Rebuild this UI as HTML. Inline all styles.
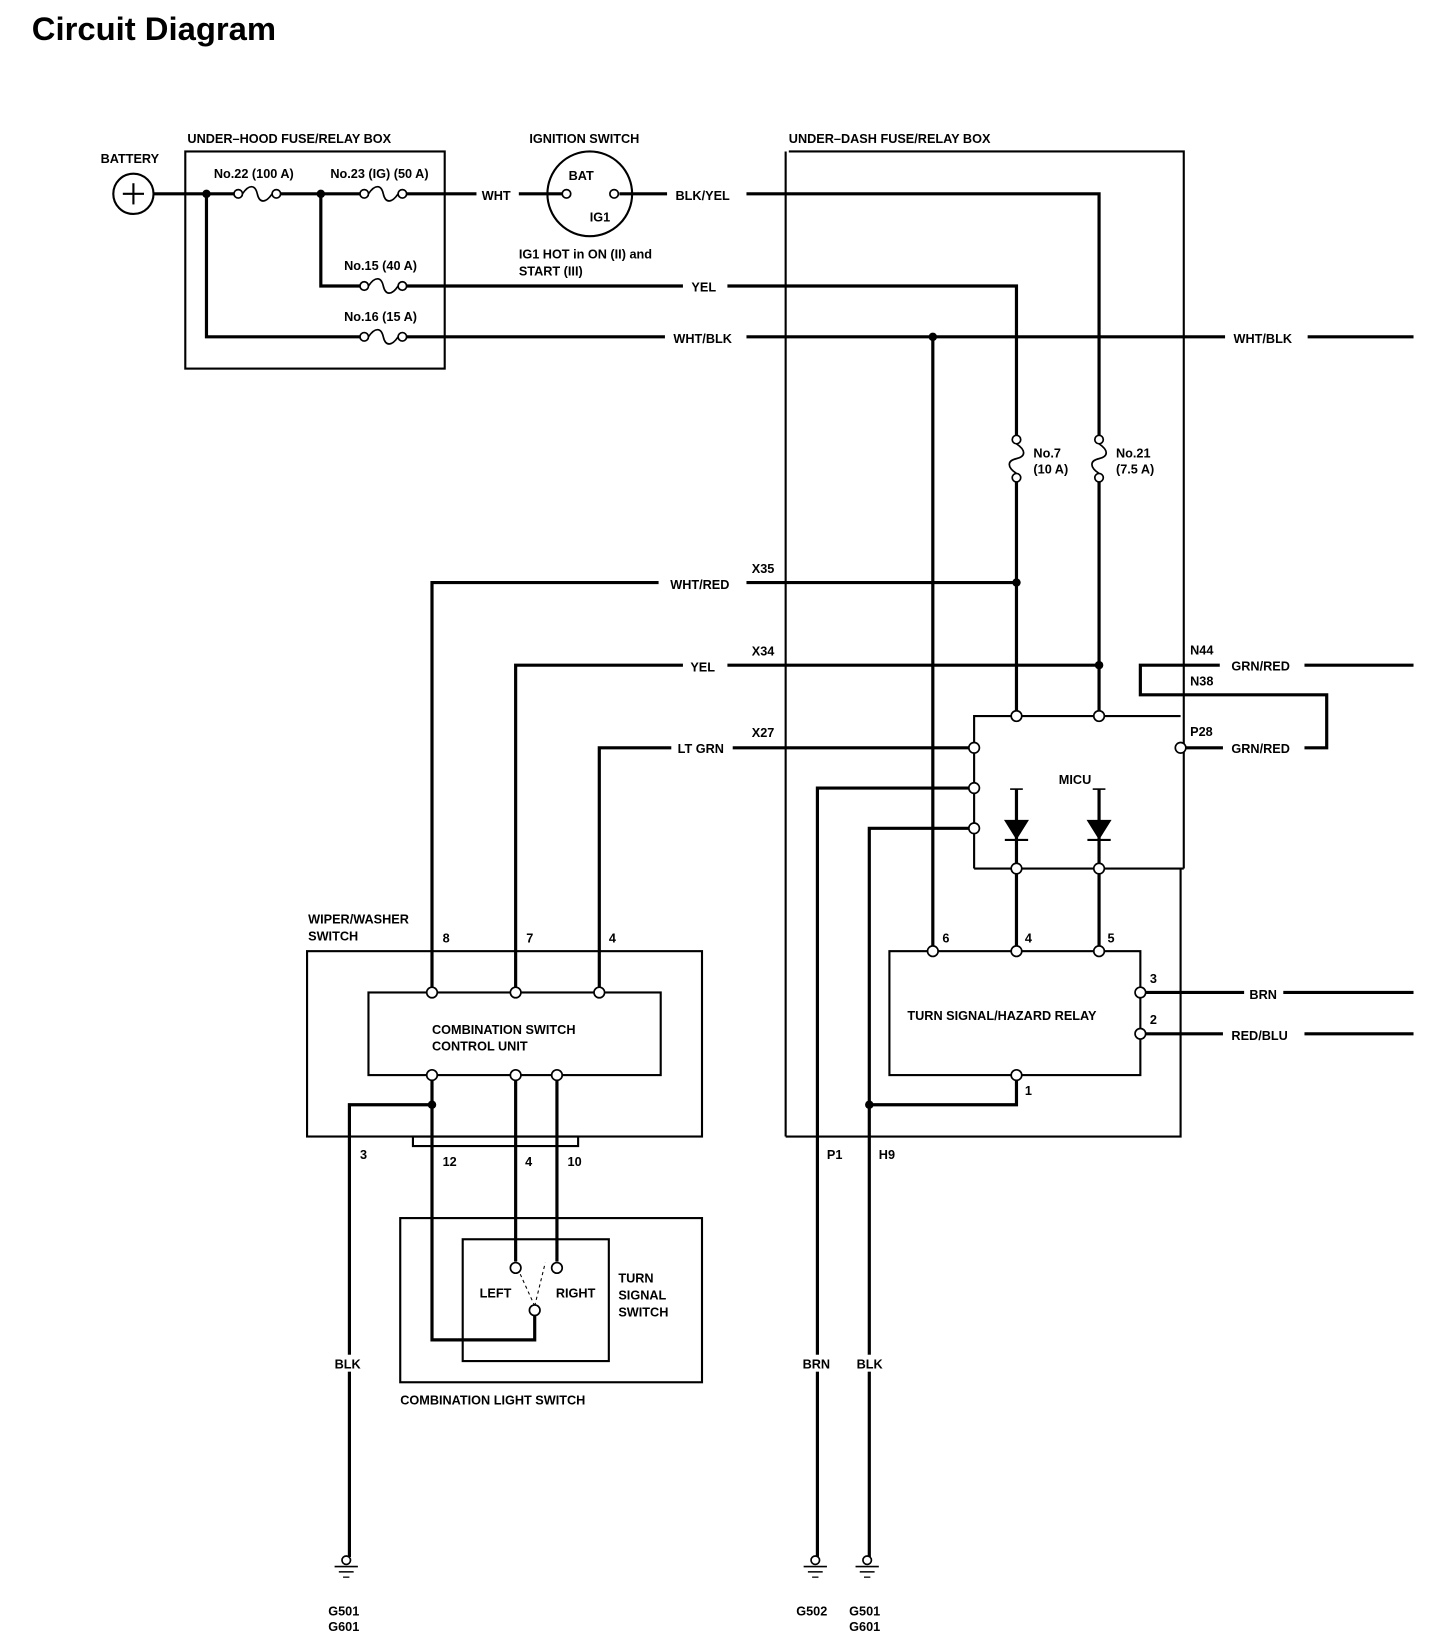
<!DOCTYPE html>
<html><head><meta charset="utf-8"><style>
html,body{margin:0;padding:0;background:#fff;}
svg{display:block;}
text{font-family:"Liberation Sans Narrow","Liberation Sans",sans-serif;font-weight:bold;font-size:12px;fill:#000;}
</style></head><body>
<svg width="1440" height="1646" viewBox="0 0 1360 1554" preserveAspectRatio="none" xmlns="http://www.w3.org/2000/svg">
<defs>
<g id="fh"><circle cx="-18" cy="0" r="4" fill="#fff" stroke="#000" stroke-width="1.6"/><circle cx="18" cy="0" r="4" fill="#fff" stroke="#000" stroke-width="1.6"/><path d="M-14,0 C-8,-9 -2,-9 0,0 C2,9 8,9 14,0" fill="none" stroke="#000" stroke-width="1.6"/></g>
<g id="fv"><circle cx="0" cy="-18" r="4" fill="#fff" stroke="#000" stroke-width="1.6"/><circle cx="0" cy="18" r="4" fill="#fff" stroke="#000" stroke-width="1.6"/><path d="M0,-14 C9,-8 9,-2 0,0 C-9,2 -9,8 0,14" fill="none" stroke="#000" stroke-width="1.6"/></g>
<g id="gnd"><circle cx="0" cy="0" r="4" fill="#fff" stroke="#000" stroke-width="1.6"/><line x1="-11" y1="6" x2="11" y2="6" stroke="#000" stroke-width="1.6"/><line x1="-7" y1="11" x2="7" y2="11" stroke="#000" stroke-width="1.4"/><line x1="-3" y1="16" x2="3" y2="16" stroke="#000" stroke-width="1.2"/></g>
</defs>
<text x="30" y="38" style="font-family:'Liberation Sans',sans-serif;font-size:31px;font-weight:bold">Circuit Diagram</text>

<g fill="none" stroke="#000" stroke-width="2">
<rect x="175" y="143" width="245" height="205"/>
<polyline points="745,143 1118,143 1118,820"/>
<line x1="742" y1="143" x2="742" y2="1073"/>
<polyline points="742,1073 1115,1073 1115,820"/>
<polyline points="920,820 920,676 1115,676"/>
<line x1="920" y1="820" x2="1118" y2="820"/>
<rect x="840" y="898" width="237" height="117"/>
<rect x="290" y="898" width="373" height="175"/>
<rect x="348" y="937" width="276" height="78"/>
<rect x="390" y="1073" width="156" height="9"/>
<rect x="378" y="1150" width="285" height="155"/>
<rect x="437" y="1170" width="138" height="115"/>
<circle cx="557" cy="183" r="40"/>
<circle cx="126" cy="183" r="19"/>
<line x1="116" y1="183" x2="136" y2="183"/><line x1="126" y1="173" x2="126" y2="193"/>
</g>

<g fill="none" stroke="#000" stroke-width="3">
<line x1="145" y1="183" x2="221" y2="183"/>
<line x1="265" y1="183" x2="340" y2="183"/>
<line x1="384" y1="183" x2="450" y2="183"/>
<line x1="490" y1="183" x2="531" y2="183"/>
<line x1="585" y1="183" x2="630" y2="183"/>
<polyline points="705,183 1038,183 1038,411"/>
<line x1="1038" y1="455" x2="1038" y2="672"/>
<polyline points="303,183 303,270 340,270"/>
<line x1="384" y1="270" x2="645" y2="270"/>
<polyline points="687,270 960,270 960,411"/>
<line x1="960" y1="455" x2="960" y2="672"/>
<polyline points="195,183 195,318 340,318"/>
<line x1="384" y1="318" x2="628" y2="318"/>
<line x1="705" y1="318" x2="1157" y2="318"/>
<line x1="1235" y1="318" x2="1335" y2="318"/>
<line x1="881" y1="318" x2="881" y2="894"/>
<polyline points="408,933 408,550 622,550"/>
<line x1="705" y1="550" x2="960" y2="550"/>
<polyline points="487,933 487,628 645,628"/>
<line x1="687" y1="628" x2="1038" y2="628"/>
<polyline points="566,933 566,706 634,706"/>
<line x1="692" y1="706" x2="916" y2="706"/>
<polyline points="916,744 772,744 772,1470"/>
<polyline points="916,782 821,782 821,1470"/>
<line x1="960" y1="745" x2="960" y2="894"/>
<line x1="1038" y1="745" x2="1038" y2="894"/>
<polyline points="1152,628 1077,628 1077,656 1253,656 1253,706 1232,706"/>
<line x1="1232" y1="628" x2="1335" y2="628"/>
<line x1="1120" y1="706" x2="1155" y2="706"/>
<line x1="1081" y1="937" x2="1175" y2="937"/>
<line x1="1212" y1="937" x2="1335" y2="937"/>
<line x1="1081" y1="976" x2="1155" y2="976"/>
<line x1="1232" y1="976" x2="1335" y2="976"/>
<polyline points="960,1019 960,1043 821,1043"/>
<polyline points="408,1019 408,1265 505,1265 505,1241"/>
<polyline points="408,1043 330,1043 330,1470"/>
<line x1="487" y1="1019" x2="487" y2="1191"/>
<line x1="526" y1="1019" x2="526" y2="1191"/>
</g>
<g fill="#fff">
<rect x="314" y="1279" width="26" height="16"/>
<rect x="756" y="1279" width="26" height="16"/>
<rect x="807" y="1279" width="26" height="16"/>
</g>
<g stroke="#000" stroke-width="1" stroke-dasharray="3,3" fill="none">
<line x1="505" y1="1233" x2="490" y2="1200"/><line x1="505" y1="1233" x2="515" y2="1192"/>
</g>
<use href="#fh" x="243" y="183"/><use href="#fh" x="362" y="183"/>
<use href="#fh" x="362" y="270"/><use href="#fh" x="362" y="318"/>
<use href="#fv" x="960" y="433"/><use href="#fv" x="1038" y="433"/>
<g fill="#000" stroke="#000" stroke-width="2">
<polygon points="950,775 970,775 960,791"/><line x1="949" y1="793" x2="971" y2="793"/>
<polygon points="1028,775 1048,775 1038,791"/><line x1="1027" y1="793" x2="1049" y2="793"/>
<line x1="954" y1="745" x2="966" y2="745" stroke-width="1.5"/><line x1="1032" y1="745" x2="1044" y2="745" stroke-width="1.5"/>
</g>
<g fill="#000">
<circle cx="195" cy="183" r="4"/><circle cx="303" cy="183" r="4"/><circle cx="881" cy="318" r="4"/>
<circle cx="960" cy="550" r="4"/><circle cx="1038" cy="628" r="4"/><circle cx="821" cy="1043" r="4"/><circle cx="408" cy="1043" r="4"/>
</g>
<g fill="#fff" stroke="#000" stroke-width="1.6">
<circle cx="535" cy="183" r="4"/><circle cx="580" cy="183" r="4"/>
<circle cx="960" cy="676" r="5"/><circle cx="1038" cy="676" r="5"/>
<circle cx="920" cy="706" r="5"/><circle cx="920" cy="744" r="5"/><circle cx="920" cy="782" r="5"/>
<circle cx="1115" cy="706" r="5"/><circle cx="960" cy="820" r="5"/><circle cx="1038" cy="820" r="5"/>
<circle cx="881" cy="898" r="5"/><circle cx="960" cy="898" r="5"/><circle cx="1038" cy="898" r="5"/>
<circle cx="1077" cy="937" r="5"/><circle cx="1077" cy="976" r="5"/><circle cx="960" cy="1015" r="5"/>
<circle cx="408" cy="937" r="5"/><circle cx="487" cy="937" r="5"/><circle cx="566" cy="937" r="5"/>
<circle cx="408" cy="1015" r="5"/><circle cx="487" cy="1015" r="5"/><circle cx="526" cy="1015" r="5"/>
<circle cx="487" cy="1197" r="5"/><circle cx="526" cy="1197" r="5"/><circle cx="505" cy="1237" r="5"/>
</g>
<use href="#gnd" x="327" y="1473"/><use href="#gnd" x="770" y="1473"/><use href="#gnd" x="819" y="1473"/>

<text x="95" y="154">BATTERY</text>
<text x="177" y="135">UNDER–HOOD FUSE/RELAY BOX</text>
<text x="202" y="168">No.22 (100 A)</text>
<text x="312" y="168">No.23 (IG) (50 A)</text>
<text x="325" y="255">No.15 (40 A)</text>
<text x="325" y="303">No.16 (15 A)</text>
<text x="455" y="189">WHT</text>
<text x="500" y="135">IGNITION SWITCH</text>
<text x="537" y="170">BAT</text>
<text x="557" y="209">IG1</text>
<text x="638" y="189">BLK/YEL</text>
<text x="490" y="244">IG1 HOT in ON (II) and</text>
<text x="490" y="260">START (III)</text>
<text x="653" y="275">YEL</text>
<text x="636" y="324">WHT/BLK</text>
<text x="1165" y="324">WHT/BLK</text>
<text x="745" y="135">UNDER–DASH FUSE/RELAY BOX</text>
<text x="976" y="432">No.7</text><text x="976" y="447">(10 A)</text>
<text x="1054" y="432">No.21</text><text x="1054" y="447">(7.5 A)</text>
<text x="710" y="541">X35</text><text x="633" y="556">WHT/RED</text>
<text x="710" y="619">X34</text><text x="652" y="634">YEL</text>
<text x="710" y="696">X27</text><text x="640" y="711">LT GRN</text>
<text x="1124" y="618">N44</text><text x="1124" y="647">N38</text><text x="1124" y="695">P28</text>
<text x="1163" y="633">GRN/RED</text><text x="1163" y="711">GRN/RED</text>
<text x="1000" y="740">MICU</text>
<text x="890" y="890">6</text><text x="968" y="890">4</text><text x="1046" y="890">5</text>
<text x="1086" y="928">3</text><text x="1086" y="967">2</text><text x="968" y="1034">1</text>
<text x="857" y="963">TURN SIGNAL/HAZARD RELAY</text>
<text x="1180" y="943">BRN</text><text x="1163" y="982">RED/BLU</text>
<text x="781" y="1094">P1</text><text x="830" y="1094">H9</text>
<text x="758" y="1292">BRN</text><text x="809" y="1292">BLK</text>
<text x="752" y="1525">G502</text><text x="802" y="1525">G501</text><text x="802" y="1540">G601</text>
<text x="291" y="872">WIPER/WASHER</text><text x="291" y="888">SWITCH</text>
<text x="418" y="890">8</text><text x="497" y="890">7</text><text x="575" y="890">4</text>
<text x="408" y="976">COMBINATION SWITCH</text><text x="408" y="992">CONTROL UNIT</text>
<text x="340" y="1094">3</text><text x="418" y="1101">12</text><text x="496" y="1101">4</text><text x="536" y="1101">10</text>
<text x="453" y="1225">LEFT</text><text x="525" y="1225">RIGHT</text>
<text x="584" y="1211">TURN</text><text x="584" y="1227">SIGNAL</text><text x="584" y="1243">SWITCH</text>
<text x="378" y="1326">COMBINATION LIGHT SWITCH</text>
<text x="316" y="1292">BLK</text>
<text x="310" y="1525">G501</text><text x="310" y="1540">G601</text>
</svg>
</body></html>
